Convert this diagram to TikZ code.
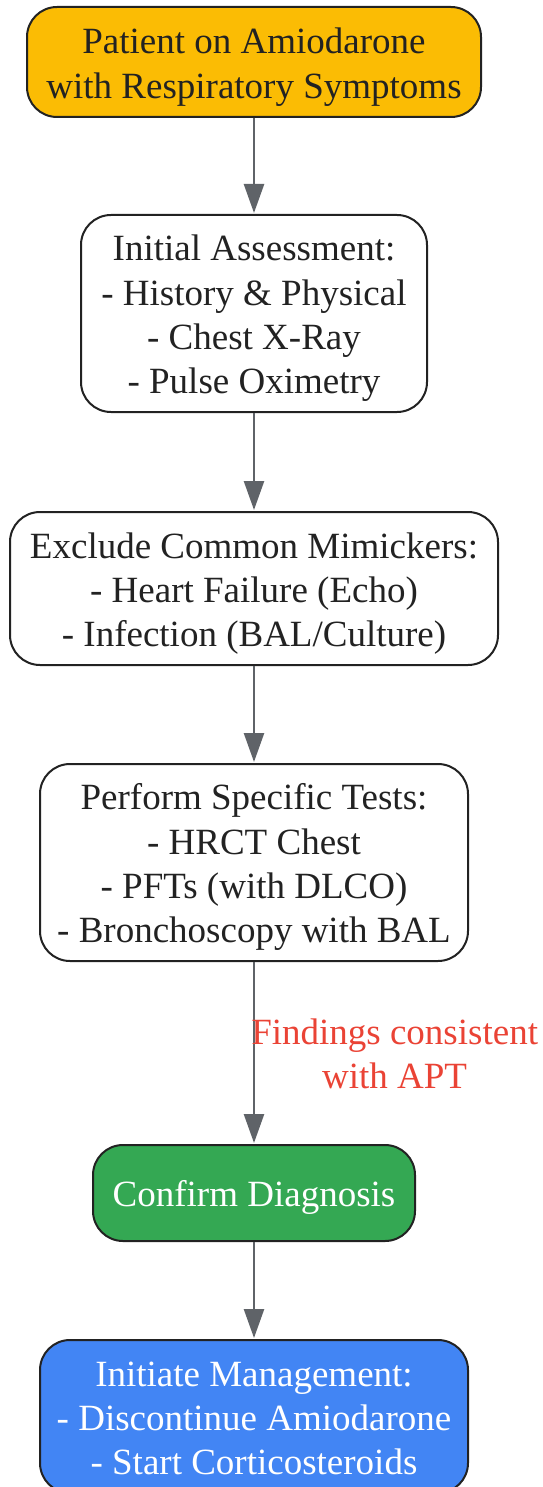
\documentclass[tikz,border=0pt]{standalone}
\usepackage{fontspec}
\setmainfont{Liberation Serif}
\usetikzlibrary{arrows.meta}
\definecolor{cyellow}{HTML}{FBBC04}
\definecolor{cgreen}{HTML}{34A853}
\definecolor{cblue}{HTML}{4285F4}
\definecolor{cred}{HTML}{EA4335}
\definecolor{carrow}{HTML}{5F6368}
\definecolor{cborder}{HTML}{222222}
\definecolor{ctext}{HTML}{222222}
\newcommand{\boxtxt}[1]{\raisebox{-5pt}[\height][\depth]{\begin{tabular}{@{}c@{}}#1\end{tabular}}}
\begin{document}
\begin{tikzpicture}[x=1pt,y=1pt,
  box/.style={draw=cborder, line width=2pt, rounded corners=30pt,
    inner sep=0pt, font=\fontsize{37}{44.3}\selectfont, text=ctext},
  arr/.style={draw=carrow, line width=2.5pt, -{Triangle[length=29pt,width=20pt]}, shorten >=1pt},
  lbl/.style={text=cred, align=center, font=\fontsize{37}{44.3}\selectfont, inner sep=0pt}
]
\useasboundingbox (0,0) rectangle (542,-1487);
\node[box, fill=cyellow, minimum width=454pt, minimum height=110pt] (n1) at (254,-62)
  {\boxtxt{Patient on Amiodarone\\with Respiratory Symptoms}};
\node[box, fill=white, minimum width=346pt, minimum height=197pt] (n2) at (254,-313.5)
  {\boxtxt{Initial Assessment:\\- History \& Physical\\- Chest X-Ray\\- Pulse Oximetry}};
\node[box, fill=white, minimum width=488pt, minimum height=153pt] (n3) at (254,-588.5)
  {\boxtxt{Exclude Common Mimickers:\\- Heart Failure (Echo)\\- Infection (BAL/Culture)}};
\node[box, fill=white, minimum width=428pt, minimum height=197pt] (n4) at (254,-862.5)
  {\boxtxt{Perform Specific Tests:\\- HRCT Chest\\- PFTs (with DLCO)\\- Bronchoscopy with BAL}};
\node[box, fill=cgreen, text=white, minimum width=322pt, minimum height=96pt] (n5) at (254,-1193)
  {\boxtxt{Confirm Diagnosis}};
\node[box, fill=cblue, text=white, minimum width=428pt, minimum height=153pt] (n6) at (254,-1416.5)
  {\boxtxt{Initiate Management:\\- Discontinue Amiodarone\\- Start Corticosteroids}};
\draw[arr] (n1) -- (n2);
\draw[arr] (n2) -- (n3);
\draw[arr] (n3) -- (n4);
\draw[arr] (n4) -- node[lbl, anchor=west, xshift=-4pt, yshift=-1pt] {Findings consistent\\with APT} (n5);
\draw[arr] (n5) -- (n6);
\end{tikzpicture}
\end{document}
